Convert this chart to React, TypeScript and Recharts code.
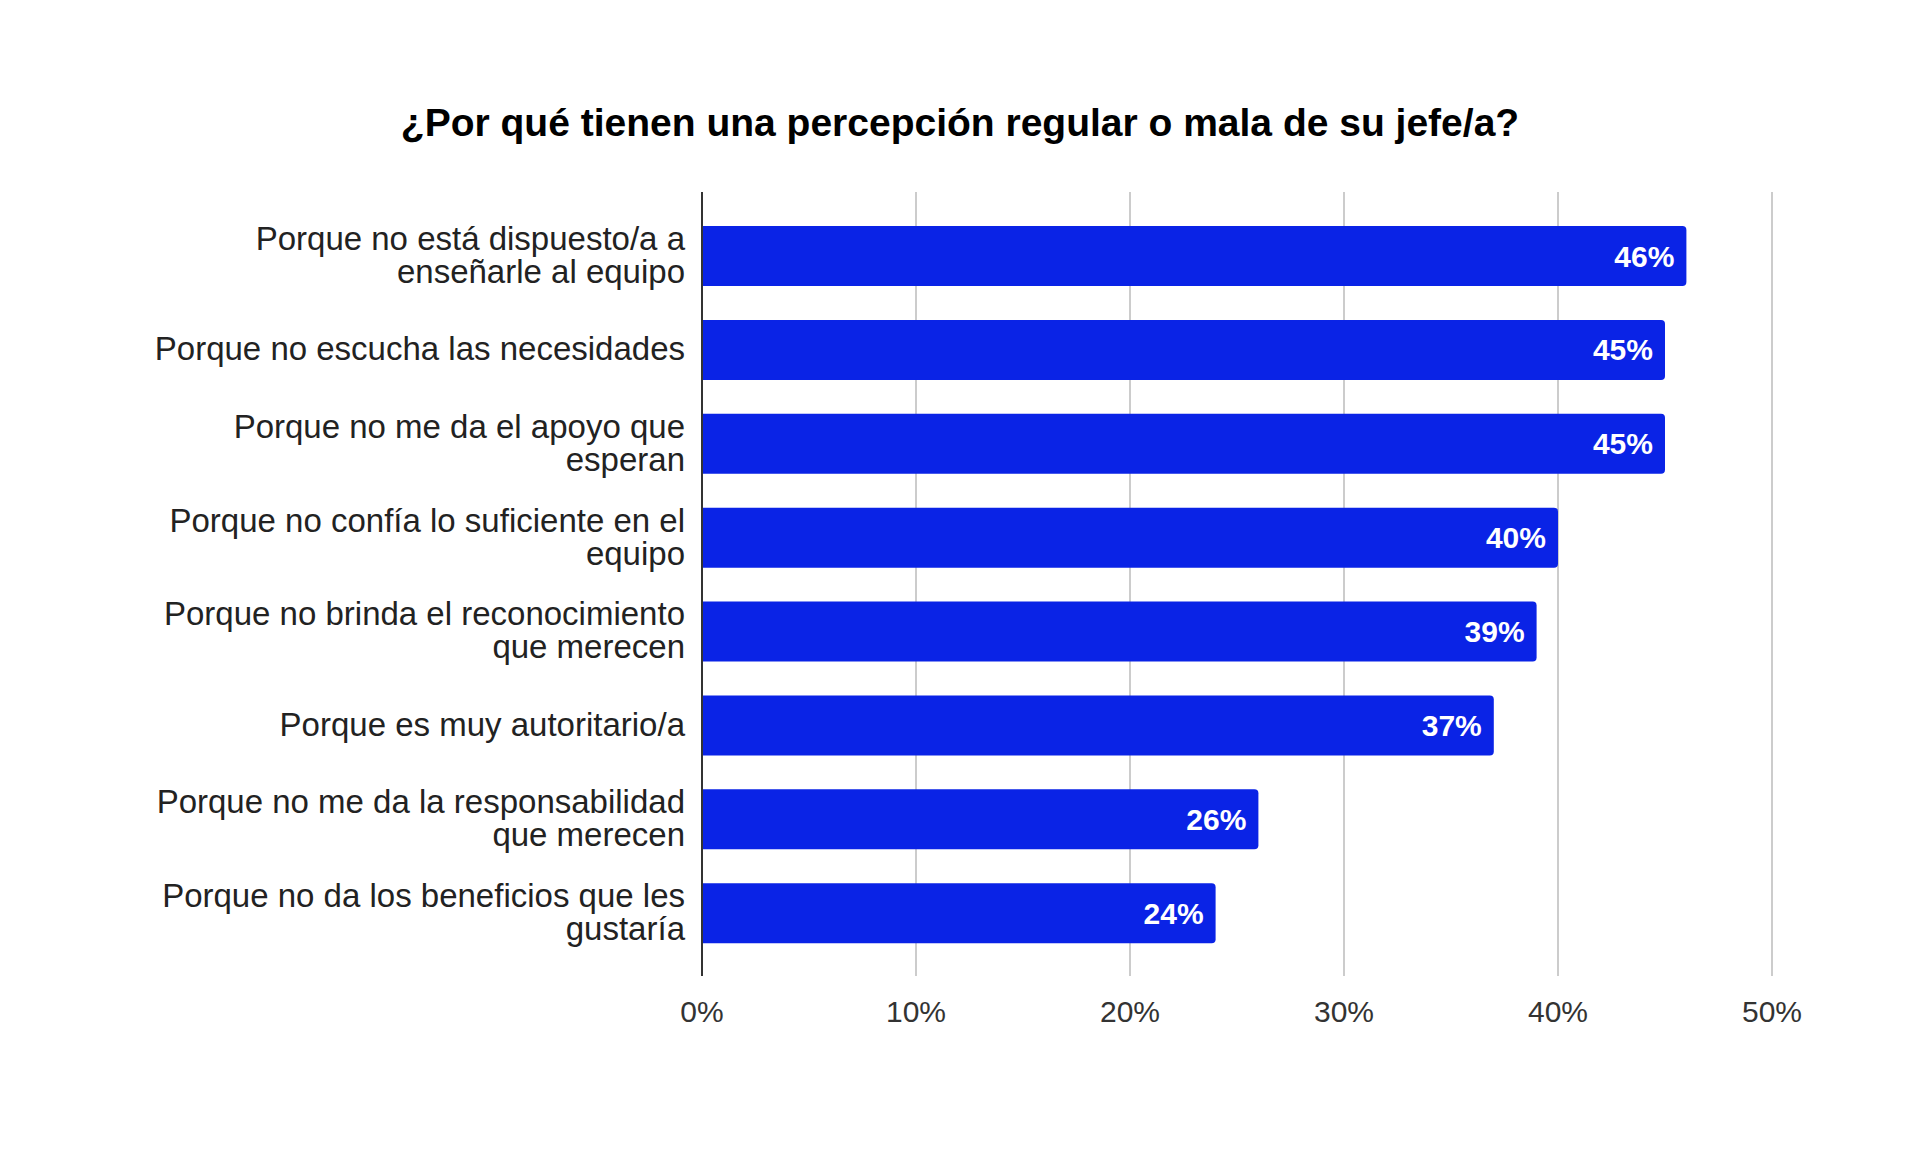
import React from 'react'
import { BarChart, Bar, XAxis, YAxis, CartesianGrid, LabelList } from 'recharts'

// Categories (line breaks where the reference wraps them)
const reasons = [
  'Porque no está dispuesto/a a\nenseñarle al equipo',
  'Porque no escucha las necesidades',
  'Porque no me da el apoyo que\nesperan',
  'Porque no confía lo suficiente en el\nequipo',
  'Porque no brinda el reconocimiento\nque merecen',
  'Porque es muy autoritario/a',
  'Porque no me da la responsabilidad\nque merecen',
  'Porque no da los beneficios que les\ngustaría',
]

const shares = [46, 45, 45, 40, 39, 37, 26, 24]

const xTicks = [0, 10, 20, 30, 40, 50]

const TITLE = '¿Por qué tienen una percepción regular o mala de su jefe/a?'

const FONT = '"Liberation Sans", Arial, sans-serif'
const BLUE = '#0a23e6'

const data = reasons.map((name, i) => ({ name, value: shares[i] }))

function ReasonTick(props: any) {
  const { x, y, payload } = props
  const lines: string[] = String(payload.value).split('\n')
  const lineH = 33
  const start = y - ((lines.length - 1) * lineH) / 2 - 1
  return (
    <text x={x - 15} y={start} textAnchor="end" fontFamily={FONT} fontSize={33} fill="#222">
      {lines.map((ln, i) => (
        <tspan key={i} x={x - 15} y={start + i * lineH} dominantBaseline="central">
          {ln}
        </tspan>
      ))}
    </text>
  )
}

function PercentTick(props: any) {
  const { x, y, payload } = props
  return (
    <text
      x={x}
      y={y + 33}
      textAnchor="middle"
      dominantBaseline="central"
      fontFamily={FONT}
      fontSize={30}
      fill="#333"
    >
      {payload.value}%
    </text>
  )
}

function BarValue(props: any) {
  const { x, y, width, height, value } = props
  return (
    <text
      x={x + width - 12}
      y={y + height / 2}
      textAnchor="end"
      dominantBaseline="central"
      fontFamily={FONT}
      fontWeight="bold"
      fontSize={30}
      fill="#fff"
    >
      {value}%
    </text>
  )
}

export default function App() {
  return (
    <div style={{ position: 'fixed', left: 0, top: 0, width: 1920, height: 1151, background: '#fff' }}>
      <div
        style={{
          position: 'absolute',
          top: 103,
          left: 0,
          width: 1920,
          textAlign: 'center',
          fontFamily: FONT,
          fontWeight: 'bold',
          fontSize: 39,
          lineHeight: '39px',
          color: '#000',
        }}
      >
        {TITLE}
      </div>
      <BarChart
        width={1920}
        height={1151}
        data={data}
        layout="vertical"
        margin={{ top: 192, right: 148, bottom: 0, left: 0 }}
      >
        <CartesianGrid vertical horizontal={false} stroke="#cccccc" strokeWidth={2} />
        <XAxis
          type="number"
          domain={[0, 50]}
          ticks={xTicks}
          axisLine={false}
          tickLine={false}
          tickSize={0}
          tick={<PercentTick />}
          height={175}
        />
        <YAxis
          type="category"
          dataKey="name"
          width={702}
          axisLine={{ stroke: '#333', strokeWidth: 2 }}
          tickLine={false}
          tickSize={0}
          tick={<ReasonTick />}
          padding={{ top: 17, bottom: 16 }}
          interval={0}
        />
        <Bar dataKey="value" fill={BLUE} barSize={60} radius={[0, 4, 4, 0]} isAnimationActive={false}>
          <LabelList dataKey="value" content={<BarValue />} />
        </Bar>
      </BarChart>
    </div>
  )
}
